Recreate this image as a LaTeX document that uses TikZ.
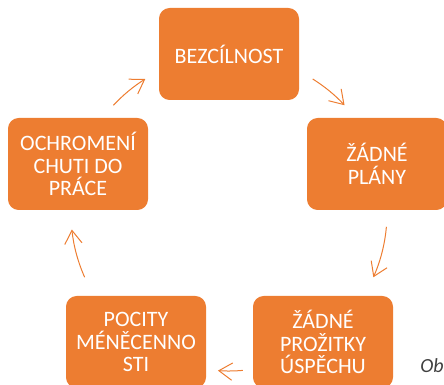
\documentclass[tikz,border=0pt]{standalone}
\usepackage{fontspec}
\setmainfont{Carlito}
\usetikzlibrary{arrows.meta,calc}
\definecolor{Accent}{HTML}{ED7D31}
\definecolor{Caption}{HTML}{404040}

\begin{document}
\begin{tikzpicture}[x=0.75pt,y=0.75pt,
  stage/.style={fill=Accent,rounded corners=8pt,minimum width=105pt,minimum height=69pt,inner sep=2pt,align=center,text=white,font=\fontsize{16.5}{17}\selectfont},
  cyc/.style={Accent,line width=0.75pt,-{Straight Barb[length=10pt,width=13pt]}}]
\useasboundingbox (0,0) rectangle (444,385);
\coordinate (hub) at (229,172);
\node[stage] (bez) at (229,331) {BEZCÍLNOST};
\node[stage] (plany) at (377,221) {ŽÁDNÉ\\PLÁNY};
\node[stage] (uspech) at (323,43) {ŽÁDNÉ\\PROŽITKY\\ÚSPĚCHU};
\node[stage] (pocity) at (136,43) {POCITY\\MÉNĚCENNO\\STI};
\node[stage] (ochrom) at (78,221) {OCHROMENÍ\\CHUTI DO\\PRÁCE};
\foreach \a/\b in {137/122,58/43,-5/-24,-85/-94,204/186} {\draw[cyc] ($(hub)+(\a:158)$) arc[start angle=\a,end angle=\b,radius=158];}
\node[anchor=base west,inner sep=0pt,font=\itshape\fontsize{15}{16}\selectfont,text=Caption] (cap) at (420,12) {Ob};
\end{tikzpicture}
\end{document}
